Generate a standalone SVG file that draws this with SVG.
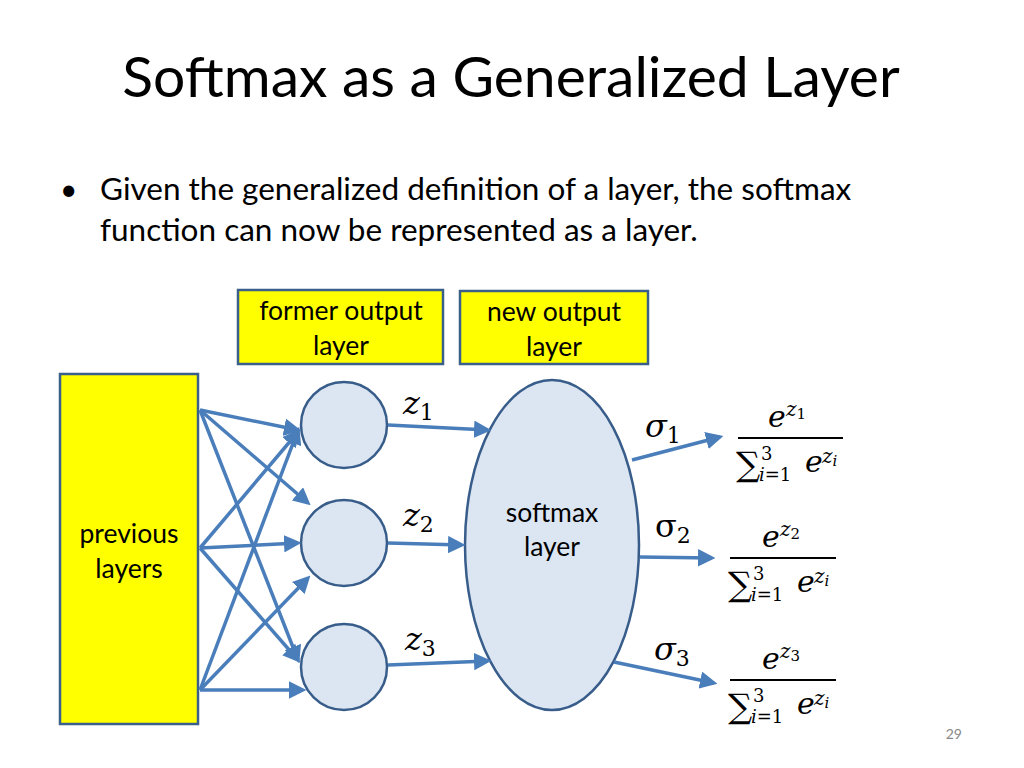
<svg xmlns="http://www.w3.org/2000/svg" width="1024" height="768" viewBox="0 0 1024 768">
<style>
.t{font-family:Lato,"Liberation Sans",sans-serif;fill:#000}
.m{font-family:"DejaVu Serif","Liberation Serif",serif;font-style:italic;fill:#000}
.g{font-family:"DejaVu Serif","Liberation Serif",serif;fill:#000}
.box{fill:#ffff00;stroke:#3a5f8a;stroke-width:2.5}
.node{fill:#dce6f2;stroke:#385d8a;stroke-width:2.5}
.c line{stroke:#4a7ebb;stroke-width:3.5;marker-end:url(#a)}
</style>
<defs><marker id="a" markerWidth="5" markerHeight="5" refX="4" refY="2.5" orient="auto"><path d="M0,0L5,2.5L0,5z" fill="#4a7ebb"/></marker></defs>
<rect width="1024" height="768" fill="#fff"/>
<text class="t" x="511" y="97" font-size="57" text-anchor="middle">Softmax as a Generalized Layer</text>
<text class="t" x="60" y="200" font-size="30">•</text>
<text class="t" x="100" y="200" font-size="31.5">Given the generalized definition of a layer, the softmax</text>
<text class="t" x="100" y="241" font-size="31.5">function can now be represented as a layer.</text>
<g id="former"><rect class="box" x="238" y="290" width="205" height="74"/><text class="t" x="341" y="320" font-size="26.5" text-anchor="middle">former output</text><text class="t" x="341" y="355" font-size="26.5" text-anchor="middle">layer</text></g>
<g id="new"><rect class="box" x="460" y="291" width="188" height="73"/><text class="t" x="554" y="321" font-size="26.5" text-anchor="middle">new output</text><text class="t" x="554" y="356" font-size="26.5" text-anchor="middle">layer</text></g>
<g id="prev"><rect class="box" x="60" y="374" width="138" height="350"/><text class="t" x="129" y="543" font-size="26.5" text-anchor="middle">previous</text><text class="t" x="129" y="578" font-size="26.5" text-anchor="middle">layers</text></g>
<g id="n1"><circle class="node" cx="344" cy="425" r="43"/></g>
<g id="n2"><circle class="node" cx="344" cy="543" r="43"/></g>
<g id="n3"><circle class="node" cx="344" cy="667" r="43"/></g>
<g id="softmax"><ellipse class="node" cx="552" cy="545" rx="87" ry="165"/><text class="t" x="552" y="522" font-size="26.5" text-anchor="middle">softmax</text><text class="t" x="552" y="556" font-size="26.5" text-anchor="middle">layer</text></g>
<g class="c" id="connectors">
<line x1="200" y1="410" x2="298" y2="430"/><line x1="200" y1="410" x2="308" y2="503"/><line x1="200" y1="410" x2="298" y2="660"/>
<line x1="200" y1="548" x2="298" y2="432"/><line x1="200" y1="548" x2="298" y2="543"/><line x1="200" y1="548" x2="298" y2="660"/>
<line x1="200" y1="690" x2="298" y2="430"/><line x1="200" y1="690" x2="308" y2="578"/><line x1="200" y1="690" x2="303" y2="690"/>
<line x1="388" y1="425" x2="488" y2="430"/><line x1="388" y1="543" x2="462" y2="545"/><line x1="388" y1="665" x2="488" y2="661"/>
<line x1="632" y1="460" x2="720" y2="437"/><line x1="640" y1="557" x2="712" y2="558"/><line x1="614" y1="662" x2="714" y2="683"/>
</g>
<g font-size="32">
<text class="m" x="403" y="414">z<tspan font-size="22" font-style="normal" dy="6">1</tspan></text>
<text class="m" x="403" y="526">z<tspan font-size="22" font-style="normal" dy="6">2</tspan></text>
<text class="m" x="405" y="650">z<tspan font-size="22" font-style="normal" dy="6">3</tspan></text>
<text class="m" x="645" y="437">σ<tspan font-size="22" font-style="normal" dy="6">1</tspan></text>
<text class="g" x="655" y="537">σ<tspan font-size="22" dy="6">2</tspan></text>
<text class="m" x="654" y="660">σ<tspan font-size="22" font-style="normal" dy="6">3</tspan></text>
</g>
<g id="f1">
<text class="m" x="768" y="427" font-size="30">e</text><text class="m" x="786" y="416" font-size="20">z<tspan font-size="15" font-style="normal" dy="3">1</tspan></text>
<line x1="738" y1="438" x2="843" y2="438" stroke="#000" stroke-width="2"/>
<text class="g" x="736" y="476" font-size="34">∑</text>
<text class="g" x="761" y="460" font-size="18">3</text>
<text class="m" x="759" y="481" font-size="18">i<tspan font-style="normal">=1</tspan></text>
<text class="m" x="805" y="472" font-size="30">e</text><text class="m" x="822" y="463" font-size="20">z<tspan font-size="15" dy="3">i</tspan></text>
</g>
<g id="f2">
<text class="m" x="762" y="547" font-size="30">e</text><text class="m" x="780" y="536" font-size="20">z<tspan font-size="15" font-style="normal" dy="3">2</tspan></text>
<line x1="730" y1="558" x2="836" y2="558" stroke="#000" stroke-width="2"/>
<text class="g" x="728" y="596" font-size="34">∑</text>
<text class="g" x="753" y="580" font-size="18">3</text>
<text class="m" x="751" y="601" font-size="18">i<tspan font-style="normal">=1</tspan></text>
<text class="m" x="797" y="592" font-size="30">e</text><text class="m" x="814" y="583" font-size="20">z<tspan font-size="15" dy="3">i</tspan></text>
</g>
<g id="f3">
<text class="m" x="762" y="669" font-size="30">e</text><text class="m" x="780" y="658" font-size="20">z<tspan font-size="15" font-style="normal" dy="3">3</tspan></text>
<line x1="730" y1="680" x2="836" y2="680" stroke="#000" stroke-width="2"/>
<text class="g" x="728" y="718" font-size="34">∑</text>
<text class="g" x="753" y="702" font-size="18">3</text>
<text class="m" x="751" y="723" font-size="18">i<tspan font-style="normal">=1</tspan></text>
<text class="m" x="797" y="714" font-size="30">e</text><text class="m" x="814" y="705" font-size="20">z<tspan font-size="15" dy="3">i</tspan></text>
</g>
<text class="t" x="962" y="739" font-size="14" style="fill:#888" text-anchor="end">29</text>
</svg>
